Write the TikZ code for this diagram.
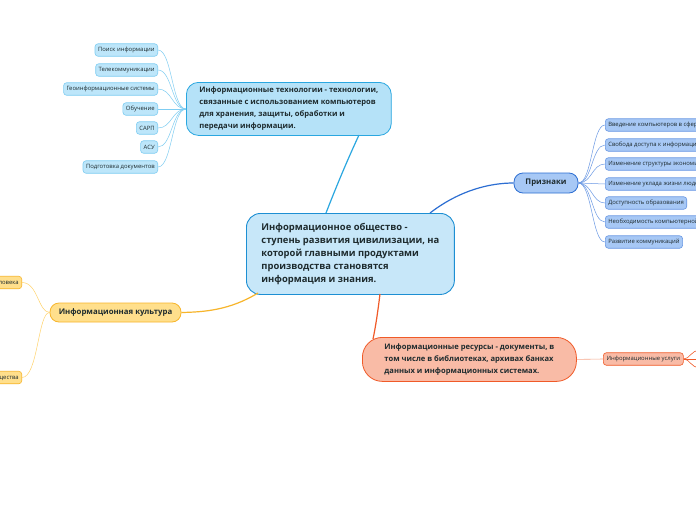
\documentclass[tikz,border=0pt]{standalone}
\usepackage{fontspec}
\setmainfont{Open Sans}
\definecolor{cblueF}{HTML}{C7E7F9}
\definecolor{cblueD}{HTML}{1D8FD3}
\definecolor{tblueF}{HTML}{B5E2F8}
\definecolor{tblueD}{HTML}{2AA7E0}
\definecolor{lblueF}{HTML}{BDE6FA}
\definecolor{lblueD}{HTML}{7FCDF2}
\definecolor{pF}{HTML}{A7C8F5}
\definecolor{pD}{HTML}{2C6ED2}
\definecolor{plD}{HTML}{6A98E4}
\definecolor{yF}{HTML}{FFDF8C}
\definecolor{yD}{HTML}{F7B52B}
\definecolor{yL}{HTML}{FFD36B}
\definecolor{oF}{HTML}{F9BBA6}
\definecolor{oD}{HTML}{F05A28}
\definecolor{oL}{HTML}{F6A88C}
\definecolor{txt}{HTML}{1E2B2E}
\tikzset{
  mainbox/.style={draw=cblueD,fill=cblueF,line width=0.9pt,rounded corners=14pt,
    align=left,text=txt,font=\fontsize{9.4}{13.1}\selectfont\bfseries,inner xsep=15pt,inner ysep=7pt,anchor=north west},
  topicbox/.style={line width=0.8pt,rounded corners=12pt,align=left,text=txt,
    font=\fontsize{7.6}{12}\selectfont\bfseries,anchor=north west,inner xsep=13pt,inner ysep=4pt},
  leafbox/.style={line width=0.6pt,rounded corners=3pt,text=txt,
    font=\fontsize{5.9}{6.5}\selectfont,inner xsep=3pt,inner ysep=0pt,minimum height=12.5pt},
}
\begin{document}
\begin{tikzpicture}[x=1pt,y=-1pt]
\useasboundingbox (0,0) rectangle (696,520);
\clip (0,0) rectangle (696,520);
\fill[white] (0,0) rectangle (696,520);

% central
\node[mainbox,minimum height=81pt,minimum width=205pt] (c) at (246,213)
{Информационное общество -\\ступень развития цивилизации, на\\которой главными продуктами\\производства становятся\\информация и знания.};

% top topic
\node[topicbox,draw=tblueD,fill=tblueF,minimum height=53pt,minimum width=203pt] (it) at (186,82)
{Информационные технологии - технологии,\\связанные с использованием компьютеров\\для хранения, защиты, обработки и\\передачи информации.};

% left leaves
\foreach \n/\y/\t in {l1/50/Поиск информации, l2/70/Телекоммуникации, l3/89/Геоинформационные системы, l4/109/Обучение, l5/128/САРП, l6/147/АСУ, l7/167/Подготовка документов}{
  \node[leafbox,draw=lblueD,fill=lblueF,anchor=east] (\n) at (158,\y) {\t};
  \draw[lblueD,line width=0.5pt] (186,109) .. controls (172,109) and (172,\y) .. (\n.east);
}
\draw[tblueD,line width=1.2pt] (359,135) .. controls (345,165) and (333,195) .. (326,213);

% Признаки
\node[draw=pD,fill=pF,line width=0.8pt,rounded corners=9pt,text=txt,font=\fontsize{7.8}{10}\selectfont\bfseries,minimum width=64pt,minimum height=20pt,inner sep=0pt] (p) at (546,183) {Признаки};
\draw[pD,line width=1.2pt] (430,213) .. controls (460,190) and (490,183) .. (p.west);
\foreach \n/\y/\t in {r1/125/Введение компьютеров в сферы деятельности, r2/145/Свобода доступа к информации, r3/164/Изменение структуры экономики, r4/184/Изменение уклада жизни людей, r5/203/Доступность образования, r6/222/Необходимость компьютерной грамотности, r7/242/Развитие коммуникаций}{
  \node[leafbox,draw=plD,fill=pF,anchor=west] (\n) at (605,\y) {\t};
  \draw[plD,line width=0.5pt] (p.east) .. controls (592,183) and (592,\y) .. (\n.west);
}

% Информационная культура
\node[draw=yD,fill=yF,line width=0.8pt,rounded corners=9pt,text=txt,font=\fontsize{7.8}{10}\selectfont\bfseries,minimum width=131pt,minimum height=19pt,inner sep=0pt] (k) at (115.5,312.5) {Информационная культура};
\draw[yD,line width=1.2pt] (258,293) .. controls (230,310) and (205,312) .. (k.east);
\node[leafbox,draw=yD,fill=yF,anchor=east] (y1) at (22,282.5) {Информационная культура человека};
\node[leafbox,draw=yD,fill=yF,anchor=east] (y2) at (22,377.5) {Информационная культура общества};
\draw[yL,line width=0.5pt] (k.west) .. controls (38,312) and (38,282.5) .. (y1.east);
\draw[yL,line width=0.5pt] (k.west) .. controls (38,312) and (38,377.5) .. (y2.east);

% Информационные ресурсы
\node[topicbox,draw=oD,fill=oF,minimum height=44pt,minimum width=214pt,rounded corners=20pt,inner xsep=20pt] (r) at (362,337)
{Информационные ресурсы - документы, в\\том числе в библиотеках, архивах банках\\данных и информационных системах.};
\draw[oD,line width=1.2pt] (380,294) .. controls (378,310) and (376,325) .. (373,339);
\node[leafbox,draw=oD,fill=oF,anchor=west,minimum width=80pt] (u) at (603,359) {Информационные услуги};
\draw[oL,line width=0.6pt] (r.east) -- (u.west);
\coordinate (u1) at (700,350);
\coordinate (u2) at (700,368);
\coordinate (u3) at (700,359);
\draw[oD,line width=0.6pt] (u.east) .. controls (690,359) and (690,351) .. (u1);
\draw[oD,line width=0.6pt] (u.east) .. controls (690,359) and (690,367) .. (u2);
\draw[oD,line width=0.6pt] (u.east) -- (u3);
\end{tikzpicture}
\end{document}
